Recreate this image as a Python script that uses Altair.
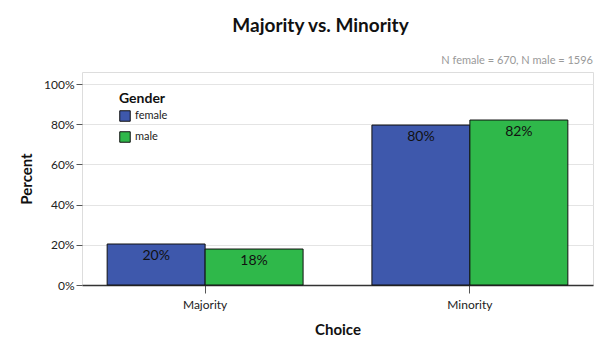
import altair as alt
import pandas as pd

choices = ["Majority", "Majority", "Minority", "Minority"]
genders = ["female", "male", "female", "male"]
percents = [20.4, 17.9, 79.6, 82.1]
labels = ["20%", "18%", "80%", "82%"]
note = ["N female = 670, N male = 1596"]

df = pd.DataFrame({"Choice": choices, "Gender": genders, "Percent": percents, "Label": labels})

FONT = "Lato"
W, H = 511, 213

x_enc = alt.X("Choice:N", title="Choice",
              scale=alt.Scale(paddingInner=0.26, paddingOuter=0.095),
              axis=alt.Axis(labelAngle=0, labelFont=FONT, labelFontSize=12, labelColor="#222",
                            titleFont=FONT, titleFontSize=15, titleFontWeight="bold", titleColor="#111",
                            titlePadding=12, labelPadding=6, tickSize=8, tickColor="#555",
                            domainColor="#333", domainWidth=1.5, grid=False))
xoff = alt.XOffset("Gender:N", scale=alt.Scale(paddingInner=0, paddingOuter=0))
y_enc = alt.Y("Percent:Q", title="Percent",
              scale=alt.Scale(domain=[0, 106], nice=False),
              axis=alt.Axis(values=[0, 20, 40, 60, 80, 100], labelExpr="datum.value + '%'",
                            labelFont=FONT, labelFontSize=12, labelColor="#222",
                            titleFont=FONT, titleFontSize=15, titleFontWeight="bold", titleColor="#111",
                            titlePadding=9, tickSize=6, tickColor="#555", domain=False,
                            grid=True, gridColor="#e4e4e4"))

bars = alt.Chart(df).mark_bar(stroke="#111", strokeWidth=1).encode(
    x=x_enc, xOffset=xoff, y=y_enc,
    color=alt.Color("Gender:N",
                    scale=alt.Scale(domain=["female", "male"], range=["#3e58ac", "#2fb84a"]),
                    legend=alt.Legend(orient="none", legendX=37, legendY=20, title="Gender",
                                      titleFont=FONT, titleFontSize=14, titleFontWeight="bold",
                                      titleColor="#111", labelFont=FONT, labelFontSize=11,
                                      labelColor="#222", symbolType="square", symbolSize=110,
                                      symbolStrokeColor="#111", symbolStrokeWidth=1,
                                      rowPadding=5, titlePadding=4)),
)

text = alt.Chart(df).mark_text(dy=12, baseline="middle", font=FONT, fontSize=14, color="#111").encode(
    x=alt.X("Choice:N"), xOffset=xoff, y=alt.Y("Percent:Q"), text="Label:N")

note_df = pd.DataFrame({"t": note})
ann = alt.Chart(note_df).mark_text(align="right", baseline="bottom", font=FONT, fontSize=11,
                                   color="#999").encode(
    x=alt.value(W), y=alt.value(-6), text="t:N")

chart = alt.layer(bars, text, ann).properties(
    width=W, height=H,
    title=alt.TitleParams("Majority vs. Minority", font=FONT, fontSize=19, fontWeight="bold",
                          color="#111", anchor="middle", dx=-17, offset=19),
    autosize=alt.AutoSizeParams(type="none"),
    padding={"left": 82, "top": 72, "right": 7, "bottom": 65},
).configure_view(fill="#f0f0f0", stroke="#444", strokeWidth=1).configure(background="white")

chart.save("out.html", embed_options={"renderer": "svg", "actions": False})
